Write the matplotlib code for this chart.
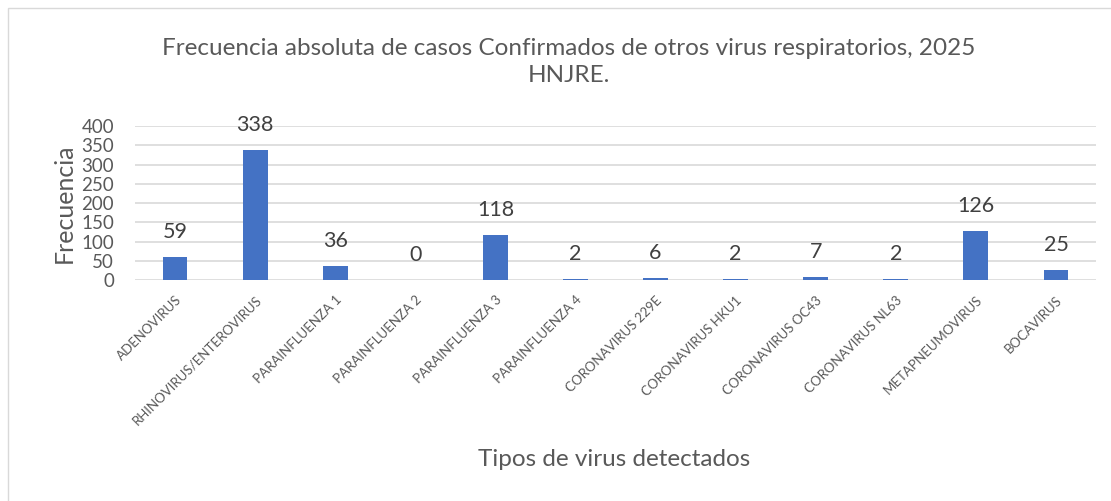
import matplotlib.pyplot as plt
from matplotlib.patches import Rectangle

virus = ['ADENOVIRUS', 'RHINOVIRUS/ENTEROVIRUS', 'PARAINFLUENZA 1', 'PARAINFLUENZA 2',
         'PARAINFLUENZA 3', 'PARAINFLUENZA 4', 'CORONAVIRUS 229E', 'CORONAVIRUS HKU1',
         'CORONAVIRUS OC43', 'CORONAVIRUS NL63', 'METAPNEUMOVIRUS', 'BOCAVIRUS']
casos = [59, 338, 36, 0, 118, 2, 6, 2, 7, 2, 126, 25]

plt.rcParams['font.family'] = ['Lato', 'DejaVu Sans']
gris = '#595959'

fig = plt.figure(figsize=(11.11, 5.01), dpi=100)
ax = fig.add_axes([0.1215, 0.4411, 0.865, 0.3074])

# borde del area del grafico
fig.patches.append(Rectangle((8 / 1111, -0.1), 1.2, 1 - 8 / 501 + 0.1, transform=fig.transFigure,
                             fill=False, edgecolor='#D9D9D9', linewidth=1))

x = range(len(virus))
ax.bar(x, casos, width=0.31, color='#4472C4', zorder=3)
for i, v in zip(x, casos):
    ax.annotate(str(v), (i, v), xytext=(0, 25), textcoords='offset pixels',
                ha='center', va='center', fontsize=15.5, color='#404040')

ax.set_xlim(-0.5, len(virus) - 0.5)
ax.set_ylim(0, 400)
ax.set_yticks(range(0, 401, 50))
ax.grid(axis='y', color='#D9D9D9', linewidth=1.2, zorder=0)
for s in ax.spines.values():
    s.set_visible(False)
ax.tick_params(length=0)
ax.tick_params(axis='y', labelsize=13.5, labelcolor=gris, pad=15)
ax.set_xticks(list(x))
ax.set_xticklabels(virus, rotation=45, ha='right', rotation_mode='anchor', fontsize=9.5, color=gris)
ax.tick_params(axis='x', pad=10)

ax.set_ylabel('Frecuencia', fontsize=18, color=gris, labelpad=4)
fig.text(0.553, 1 - 460 / 501, 'Tipos de virus detectados', ha='center', va='center', fontsize=17.5, color=gris)
fig.text(0.512, 1 - 62 / 501, 'Frecuencia absoluta de casos Confirmados de otros virus respiratorios, 2025\nHNJRE.',
         ha='center', va='center', fontsize=17.5, color=gris, linespacing=1.35)

fig.savefig('out.png', dpi=100)
